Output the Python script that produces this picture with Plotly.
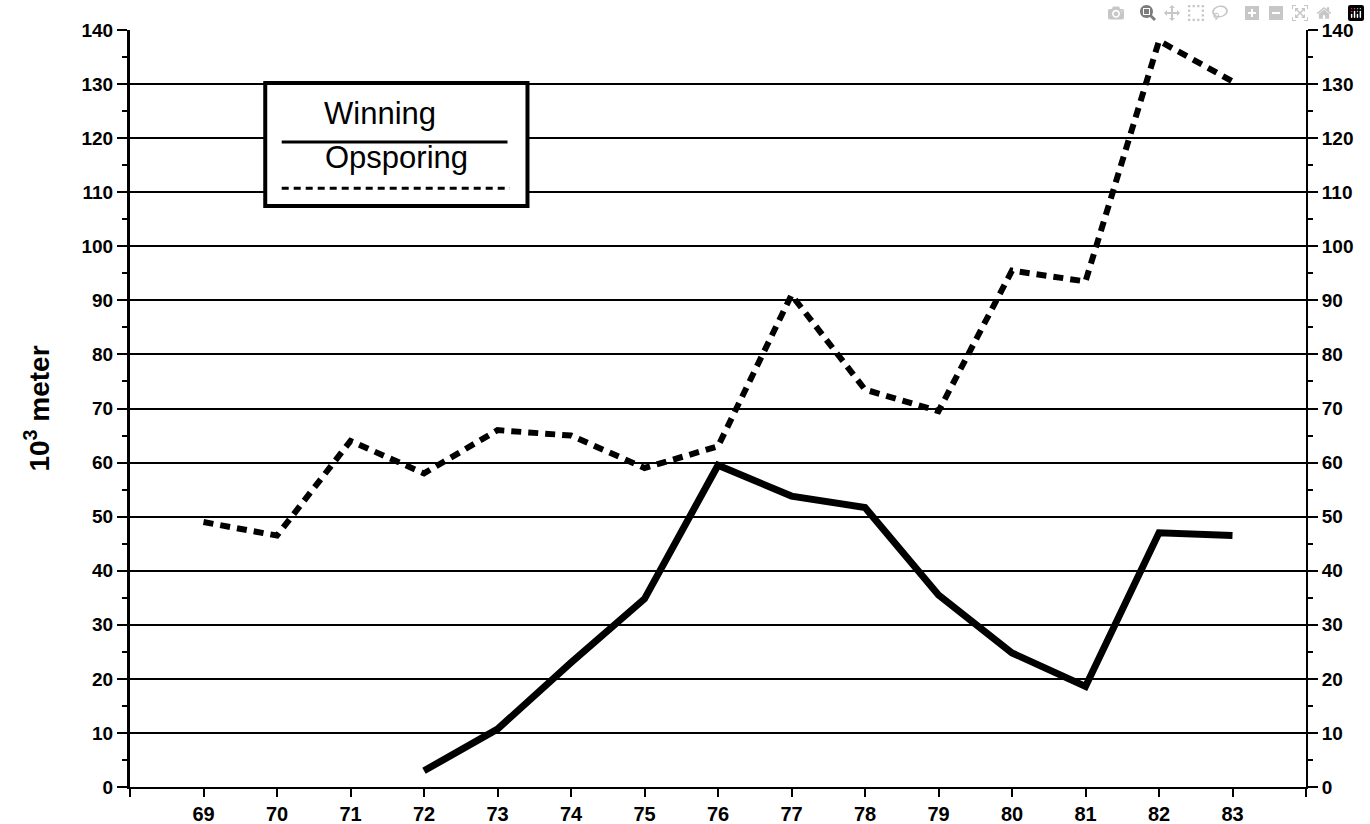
import plotly.graph_objects as go

# ---- data ----
opsporing_years = [69, 70, 71, 72, 73, 74, 75, 76, 77, 78, 79, 80, 81, 82, 83]
opsporing_values = [49, 46.5, 64, 58, 66, 65, 59, 63, 91, 73.5, 69.5, 95.5, 93.5, 138, 130.5]
winning_years = [72, 73, 74, 75, 76, 77, 78, 79, 80, 81, 82, 83]
winning_values = [3, 10.7, 23, 34.8, 59.5, 53.8, 51.7, 35.5, 24.8, 18.6, 47, 46.5]
x_tick_values = list(range(68, 85))
x_tick_labels = [""] + [str(v) for v in range(69, 84)] + [""]
y_tick_values = list(range(0, 141, 10))
legend_names = ["Winning", "Opsporing"]
y_title = "10<sup>3</sup> meter"

FONT = "Liberation Sans, Arial, sans-serif"

fig = go.Figure()
fig.add_trace(go.Scatter(x=opsporing_years, y=opsporing_values, mode="lines",
                         line=dict(color="black", width=6, dash="10px,7px"),
                         name=legend_names[1], showlegend=False))
fig.add_trace(go.Scatter(x=winning_years, y=winning_values, mode="lines",
                         line=dict(color="black", width=7),
                         name=legend_names[0], showlegend=False))
# invisible trace to drive right axis
fig.add_trace(go.Scatter(x=[68], y=[0], yaxis="y2", mode="markers",
                         marker=dict(opacity=0), showlegend=False, hoverinfo="skip"))

tickfont = dict(family=FONT, size=19, color="black", weight="bold")
xtickfont = dict(family=FONT, size=20, color="black", weight="bold")

fig.update_layout(
    width=1370, height=824,
    margin=dict(l=130, r=64, t=30, b=37),
    paper_bgcolor="white", plot_bgcolor="white",
    xaxis=dict(range=[68, 84], tickvals=x_tick_values, ticktext=x_tick_labels,
               showgrid=False, zeroline=False, showline=True, linecolor="black", linewidth=2,
               ticks="outside", ticklen=8, tickwidth=2, tickcolor="black",
               tickfont=xtickfont, automargin=False),
    yaxis=dict(range=[0, 140], tickvals=y_tick_values, showgrid=True, gridcolor="black",
               gridwidth=1.5, zeroline=False, showline=True, linecolor="black", linewidth=3,
               ticks="outside", ticklen=10, tickwidth=1.5, tickcolor="black",
               tickfont=tickfont, automargin=False,
               minor=dict(dtick=5, ticks="outside", ticklen=5, tickcolor="black", tickwidth=1.5, showgrid=False),
               title=dict(text=y_title, font=dict(family=FONT, size=28, color="black", weight="bold"), standoff=24)),
    yaxis2=dict(range=[0, 140], tickvals=y_tick_values, overlaying="y", side="right",
                showgrid=False, zeroline=False, showline=True, linecolor="black", linewidth=2,
                ticks="outside", ticklen=10, tickwidth=1.5, tickcolor="black",
                tickfont=tickfont, automargin=False,
                minor=dict(dtick=5, ticks="outside", ticklen=5, tickcolor="black", tickwidth=1.5, showgrid=False)),
    showlegend=False,
)

# legend box drawn manually
fig.add_shape(type="rect", xref="paper", yref="paper", x0=0.115, x1=0.338, y0=0.7675, y1=0.930,
              line=dict(color="black", width=4), fillcolor="white", layer="above")
fig.add_shape(type="line", xref="paper", yref="paper", x0=0.129, x1=0.321, y0=0.852, y1=0.852,
              line=dict(color="black", width=3), layer="above")
fig.add_shape(type="line", xref="paper", yref="paper", x0=0.129, x1=0.323, y0=0.791, y1=0.791,
              line=dict(color="black", width=3, dash="7px,5px"), layer="above")
fig.add_annotation(xref="paper", yref="paper", x=0.2126, y=0.890, xanchor="center", yanchor="middle",
                   text=legend_names[0], showarrow=False,
                   font=dict(family=FONT, size=31, color="black"))
fig.add_annotation(xref="paper", yref="paper", x=0.227, y=0.831, xanchor="center", yanchor="middle",
                   text=legend_names[1], showarrow=False,
                   font=dict(family=FONT, size=31, color="black"))

fig.write_html("out.html", post_script="document.body.style.margin='0';document.body.style.overflow='hidden';")
